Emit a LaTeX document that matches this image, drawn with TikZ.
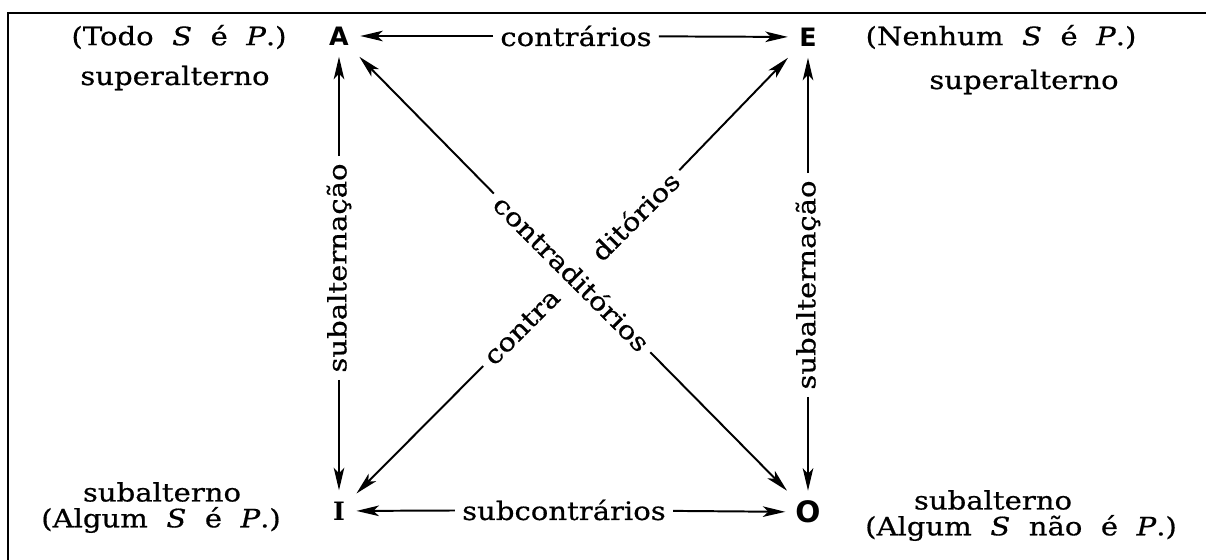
\documentclass[tikz,border=0pt]{standalone}
\usepackage{fontspec}
\setmainfont{DejaVu Serif}[FakeStretch=1.15,WordSpace=2,FakeBold=0.6]
\newfontfamily\letfont{DejaVu Sans}
\newfontfamily\letserif{DejaVu Serif}
\usetikzlibrary{arrows.meta}
\begin{document}
\begin{tikzpicture}[x=0.025cm,y=-0.025cm,
  txt/.style={font=\fontsize{18}{21}\selectfont, inner sep=0pt},
  lab/.style={font=\fontsize{18}{21}\selectfont, inner sep=5pt},
  letter/.style={font=\letfont\bfseries\fontsize{18}{20}\selectfont, inner sep=8pt},
  conn/.style={line width=1.4pt, -{Stealth[length=16pt,width=7.5pt,inset=4pt]}},
]
\useasboundingbox (0,0) rectangle (1206,560);
\draw[line width=1.8pt] (8,560) -- (8,13) -- (1206,13);

% corner letters
\node[letter] (A) at (339,36) {A};
\node[letter] (E) at (808,37) {E};
\node[letter,font=\letserif\bfseries\fontsize{18}{20}\selectfont] (I) at (339,511) {I};
\node[letter,font=\letfont\bfseries\fontsize{21}{22}\selectfont,inner sep=7pt] (O) at (808,512) {O};

% side texts
\node[txt] (tA1) at (179,37) {(Todo \textit{S} é \textit{P}.)};
\node[txt] (tA2) at (175,78) {superalterno};
\node[txt] (tE1) at (1001,37) {(Nenhum \textit{S} é \textit{P}.)};
\node[txt] (tE2) at (1024,82) {superalterno};
\node[txt] (tI1) at (162,492) {subalterno};
\node[txt] (tI2) at (161,520) {(Algum \textit{S} é \textit{P}.)};
\node[txt] (tO1) at (993,500) {subalterno};
\node[txt] (tO2) at (1021,528) {(Algum \textit{S} não é \textit{P}.)};

% connector labels
\node[lab] (lc) at (576,36) {contrários};
\node[lab] (lsc) at (564,510) {subcontrários};
\node[lab,rotate=90] (lsl) at (339,268) {subalternação};
\node[lab,rotate=90] (lsr) at (808,285) {subalternação};
\node[lab,rotate=-45] (lcd) at (572,273) {contraditórios};
\node[lab,rotate=45] (lct) at (522,327) {contra};
\node[lab,rotate=45] (ldt) at (635,216) {ditórios};

% connectors
\draw[conn] (lc) -- (A);
\draw[conn] (lc) -- (E);
\draw[conn] (lsc) -- (I);
\draw[conn] (lsc) -- (O);
\draw[conn] (lsl) -- (A);
\draw[conn] (lsl) -- (I);
\draw[conn] (lsr) -- (E);
\draw[conn] (lsr) -- (O);
\draw[conn] (lcd) -- (A);
\draw[conn] (lcd) -- (O);
\draw[conn] (lct) -- (I);
\draw[conn] (ldt) -- (E);
\end{tikzpicture}
\end{document}
